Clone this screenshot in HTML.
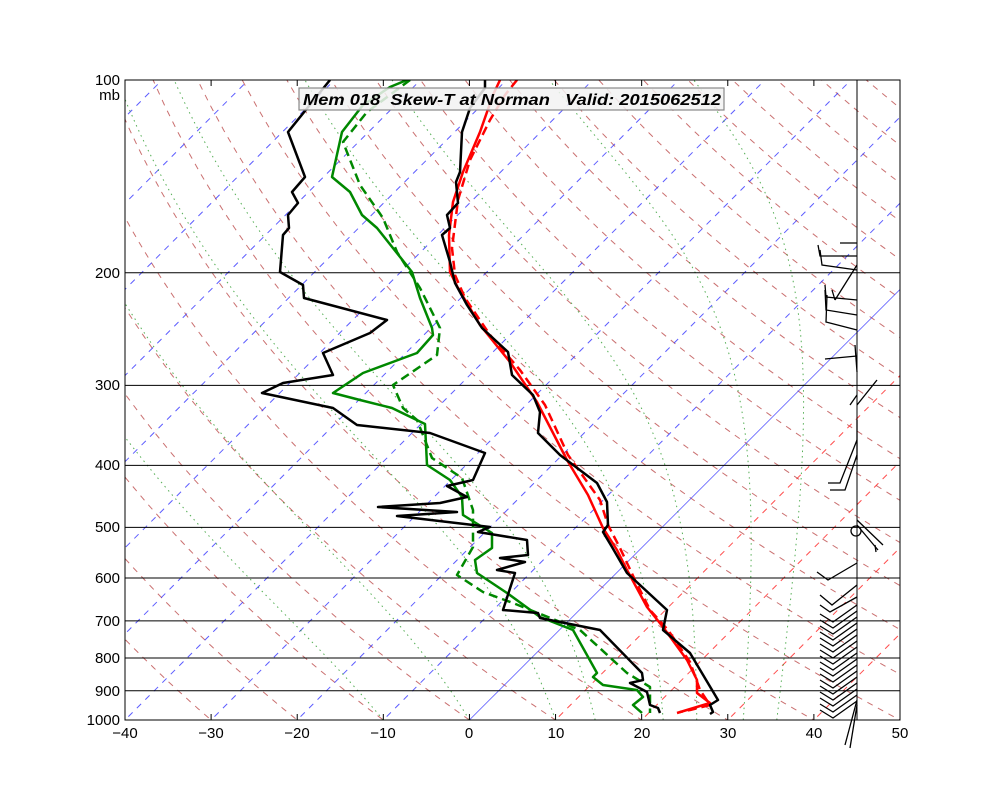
<!DOCTYPE html>
<html><head><meta charset="utf-8">
<style>
html,body{margin:0;padding:0;background:#fff;}
svg{display:block;font-family:"Liberation Sans",sans-serif;}
</style></head>
<body>
<svg id="s" width="1000" height="800" xmlns="http://www.w3.org/2000/svg">
<defs><clipPath id="c"><rect x="125" y="80" width="775" height="640"/></clipPath></defs>
<g id="bg" clip-path="url(#c)"></g>
<g clip-path="url(#c)" stroke="#000" stroke-width="1">
<line x1="125" y1="272.7" x2="900" y2="272.7"/>
<line x1="125" y1="385.4" x2="900" y2="385.4"/>
<line x1="125" y1="465.4" x2="900" y2="465.4"/>
<line x1="125" y1="527.4" x2="900" y2="527.4"/>
<line x1="125" y1="578.0" x2="900" y2="578.0"/>
<line x1="125" y1="620.9" x2="900" y2="620.9"/>
<line x1="125" y1="658.0" x2="900" y2="658.0"/>
<line x1="125" y1="690.7" x2="900" y2="690.7"/>
</g>
<g clip-path="url(#c)" fill="none" stroke-width="2.5" stroke-linejoin="round">
<polyline stroke="#f00" stroke-dasharray="9,5" points="517,80 505,95 490,120 470,160 458,200 452,248 455,275 465,298 490,335 520,370 545,405 568,455 600,500 608,525 620,548 635,580 650,610 668,630 690,662 700,690 710,705 690,710 680,712"/>
<polyline stroke="#f00" points="500,80 493,95 480,132 463,172 453,202 449,235 450,272 458,288 480,325 510,362 537,402 567,460 588,495 603,528 617,550 627,570 647,607 663,627 687,660 697,680 697,693 710,703 677,713"/>
<polyline stroke="#000" points="485,80 485,88 470,108 462,132 460,172 456,182 458,203 447,215 450,228 442,235 450,262 455,283 467,305 482,328 508,352 512,375 533,395 540,412 538,433 560,455 597,483 607,502 608,525 603,532 612,547 627,573 667,610 663,630 690,653 718,700 710,705 713,712 710,714"/>
<polyline stroke="#080" stroke-dasharray="9,5" points="410,80 367,112 343,142 360,185 383,218 397,252 420,288 440,328 437,355 393,385 403,408 417,420 432,458 462,478 473,510 473,547 457,575 483,592 513,603 580,630 627,673 650,687 650,713"/>
<polyline stroke="#080" points="407,80 390,87 363,105 342,132 332,177 350,192 362,215 377,228 412,272 420,298 432,328 433,335 417,353 363,373 333,393 360,400 392,408 425,424 427,465 450,480 462,497 463,515 492,533 492,548 475,560 477,573 507,593 540,617 573,630 597,673 593,677 603,685 637,690 643,697 633,705 642,713"/>
<polyline stroke="#000" points="330,80 288,132 305,177 292,192 298,203 288,215 289,228 283,235 280,272 303,285 304,298 387,320 370,333 323,353 333,375 283,383 262,393 333,408 357,425 430,433 485,453 473,480 447,486 467,497 440,503 378,507 457,512 397,516 490,527 478,532 527,540 528,555 500,558 525,562 497,570 515,573 503,610 538,613 540,618 600,630 642,673 643,680 630,683 647,692 650,705 658,708 660,713"/>
</g>
<g id="barbs" fill="none" stroke="#000" stroke-width="1.3"></g>
<rect x="125" y="80" width="775" height="640" fill="none" stroke="#000" stroke-width="1"/>
<line x1="857" y1="80" x2="857" y2="720" stroke="#000" stroke-width="1"/>
<g id="ticks" stroke="#000" stroke-width="1"></g>
<rect x="299" y="88" width="425" height="22" fill="#f2f2f2" fill-opacity="0.85" stroke="#888" stroke-width="1.2"/>
<text x="303" y="105" font-size="16" font-weight="bold" font-style="italic" fill="#000" textLength="418" lengthAdjust="spacingAndGlyphs" xml:space="preserve">Mem 018  Skew-T at Norman   Valid: 2015062512</text>
<g font-size="15" fill="#000" text-anchor="end">
<text x="120" y="85">100</text><text x="120" y="100">mb</text>
<text x="120" y="278">200</text><text x="120" y="390">300</text>
<text x="120" y="470">400</text><text x="120" y="532">500</text>
<text x="120" y="583">600</text><text x="120" y="626">700</text>
<text x="120" y="663">800</text><text x="120" y="696">900</text>
<text x="120" y="725">1000</text>
</g>
<g font-size="15" fill="#000" text-anchor="middle">
<text x="125" y="738">−40</text><text x="211" y="738">−30</text>
<text x="297" y="738">−20</text><text x="383" y="738">−10</text>
<text x="469" y="738">0</text><text x="556" y="738">10</text>
<text x="642" y="738">20</text><text x="728" y="738">30</text>
<text x="814" y="738">40</text><text x="900" y="738">50</text>
</g>
<script>
(function(){
var NS="http://www.w3.org/2000/svg";
function y(p){return 80+640*Math.log10(p/100);}
function x(T,p){return 469.4+8.611*T+(720-y(p));}
var bg=document.getElementById('bg');
function pl(pts,st,dash,w,op){var e=document.createElementNS(NS,'polyline');e.setAttribute('points',pts.map(function(a){return a[0].toFixed(1)+','+a[1].toFixed(1)}).join(' '));e.setAttribute('fill','none');e.setAttribute('stroke',st);e.setAttribute('stroke-width',w||1);if(dash)e.setAttribute('stroke-dasharray',dash);if(op)e.setAttribute('stroke-opacity',op);bg.appendChild(e);}
for(var th=-30;th<=200;th+=10){var pts=[];for(var p=1050;p>=95;p-=10){var T=(th+273.15)*Math.pow(p/1000,0.286)-273.15;pts.push([x(T,p),y(p)]);}pl(pts,'#b84040','6,6',1,0.75);}
for(var T=-130;T<=50;T+=10){var pts=[[x(T,1050),y(1050)],[x(T,95),y(95)]];if(T<0)pl(pts,'#3333ff','6,6',1,0.8);else if(T==0)pl(pts,'#3333ff',null,0.8,0.8);else pl(pts,'#ff2020','6,6',1,0.8);}
function es(Tc){return 6.112*Math.exp(17.67*Tc/(Tc+243.5));}
var starts=[-10,0,10,14.6,22.5,26.4,31.8,35.7];
starts.forEach(function(T0){var T=T0+273.15,pts=[];for(var p=1000;p>=100;p-=2){pts.push([x(T-273.15,p),y(p)]);var e=es(T-273.15),rs=0.622*e/(p-e);var d=(287*T+2.5e6*rs)/(p*(1005+2.5e6*2.5e6*rs*0.622/(287*T*T)));T-=d*2;}pl(pts,'#2a9a2a','1.5,4',1,0.8);});
var tk=document.getElementById('ticks');
for(var i=0;i<=9;i++){var xx=125+86.11*i;[[720,714],[80,86]].forEach(function(a){var l=document.createElementNS(NS,'line');l.setAttribute('x1',xx);l.setAttribute('x2',xx);l.setAttribute('y1',a[0]);l.setAttribute('y2',a[1]);tk.appendChild(l);});}
var b=document.getElementById('barbs');
function bl(s){var e=document.createElementNS(NS,'polyline');e.setAttribute('points',s);b.appendChild(e);}
bl("857,256 820,256 818,245");bl("857,270 822,265 820,250");bl("857,243 840,243");
bl("857,265 835,300");bl("835,300 832,290");
bl("857,300 826,297 825,285");bl("857,315 826,310 825,290");bl("857,330 826,322 827,295");
bl("857,356 825,359");bl("855,345 857,372");bl("857,405 877,380");bl("857,395 850,405");
bl("857,455 845,490 830,490");bl("857,440 840,483 828,483");bl("857,420 857,460");
bl("857,520 883,545");bl("857,525 878,550");bl("875,545 876,552");
bl("857,563 828,580 817,572");bl("857,585 832,605 820,595");bl("857,597 830,612 820,605");
for(var yy=605;yy<=705;yy+=6){bl("857,"+yy+" 833,"+(yy+17)+" 820,"+(yy+9));}
bl("857,700 845,745");bl("857,705 850,748");
var c=document.createElementNS(NS,'circle');c.setAttribute('cx',856);c.setAttribute('cy',531);c.setAttribute('r',5);b.appendChild(c);
})();
</script>
</svg>
</body></html>
